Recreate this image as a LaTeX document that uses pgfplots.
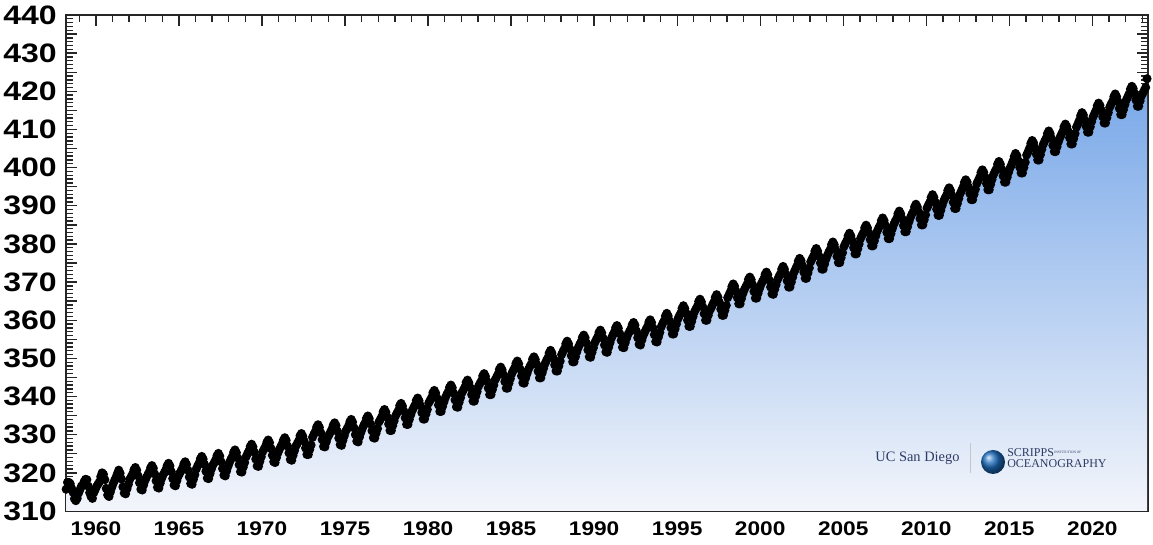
\documentclass[border=0pt]{standalone}
\usepackage{pgfplots}
\pgfplotsset{compat=1.18}
\usepackage{pgfplotstable}
\usepackage{fontspec}
\setmainfont{Liberation Sans}
\newfontfamily\ylabfont[FakeStretch=1.2]{Liberation Sans}
\newfontfamily\xlabfont[FakeStretch=1.15]{Liberation Sans}
\newfontfamily\logofont{Liberation Serif}
\definecolor{gtop}{RGB}{119,167,232}
\definecolor{gbot}{RGB}{243,245,251}
\definecolor{navy}{RGB}{45,60,100}
\definecolor{globe}{RGB}{30,110,190}
\definecolor{recent}{RGB}{40,90,210}

% Monthly mean CO2 (ppm), Mauna Loa, from March 1958 to April 2023
\pgfplotstableread[row sep=\\]{
co2\\
315.7\\ 317.5\\ 317.5\\ 317.1\\ 315.9\\ 314.9\\ 313.2\\ 312.7\\ 313.3\\ 314.7\\
315.6\\ 316.5\\ 316.7\\ 317.7\\ 318.3\\ 318.2\\ 316.5\\ 314.8\\ 313.8\\ 313.3\\ 314.8\\ 315.6\\
316.4\\ 317.0\\ 317.6\\ 319.0\\ 320.0\\ 319.6\\ 318.2\\ 315.9\\ 314.2\\ 313.8\\ 315.0\\ 316.2\\
317.2\\ 318.0\\ 318.8\\ 319.8\\ 320.7\\ 319.9\\ 318.4\\ 316.3\\ 314.7\\ 314.5\\ 315.8\\ 317.0\\
318.3\\ 319.0\\ 319.7\\ 320.8\\ 321.4\\ 320.7\\ 319.2\\ 317.4\\ 315.7\\ 315.5\\ 316.8\\ 318.0\\
318.8\\ 319.5\\ 320.2\\ 321.3\\ 321.9\\ 321.2\\ 319.7\\ 317.9\\ 316.2\\ 316.0\\ 317.3\\ 318.5\\
319.4\\ 320.1\\ 320.8\\ 321.9\\ 322.5\\ 321.8\\ 320.3\\ 318.5\\ 316.8\\ 316.6\\ 317.9\\ 319.1\\
319.8\\ 320.5\\ 321.2\\ 322.3\\ 322.9\\ 322.2\\ 320.7\\ 318.9\\ 317.2\\ 317.0\\ 318.3\\ 319.5\\
321.0\\ 321.8\\ 322.5\\ 323.7\\ 324.3\\ 323.6\\ 322.2\\ 320.4\\ 318.6\\ 318.5\\ 319.8\\ 321.0\\
322.0\\ 322.7\\ 323.4\\ 324.5\\ 325.1\\ 324.4\\ 322.9\\ 321.1\\ 319.4\\ 319.2\\ 320.5\\ 321.7\\
322.7\\ 323.5\\ 324.2\\ 325.4\\ 326.0\\ 325.3\\ 323.9\\ 322.1\\ 320.3\\ 320.2\\ 321.5\\ 322.7\\
324.2\\ 325.0\\ 325.7\\ 326.9\\ 327.5\\ 326.8\\ 325.4\\ 323.6\\ 321.8\\ 321.7\\ 323.0\\ 324.2\\
325.5\\ 326.2\\ 326.9\\ 328.0\\ 328.6\\ 327.9\\ 326.4\\ 324.6\\ 322.9\\ 322.7\\ 324.0\\ 325.2\\
326.1\\ 326.8\\ 327.5\\ 328.6\\ 329.2\\ 328.5\\ 327.0\\ 325.2\\ 323.5\\ 323.3\\ 324.6\\ 325.8\\
327.0\\ 327.7\\ 328.4\\ 329.7\\ 330.3\\ 329.6\\ 328.3\\ 326.5\\ 324.8\\ 324.8\\ 326.1\\ 327.3\\
329.3\\ 330.1\\ 330.8\\ 332.0\\ 332.6\\ 331.9\\ 330.5\\ 328.7\\ 326.9\\ 326.8\\ 328.1\\ 329.3\\
330.0\\ 330.7\\ 331.4\\ 332.5\\ 333.1\\ 332.4\\ 330.9\\ 329.1\\ 327.4\\ 327.2\\ 328.5\\ 329.7\\
330.9\\ 331.6\\ 332.3\\ 333.4\\ 334.0\\ 333.3\\ 331.8\\ 330.0\\ 328.3\\ 328.1\\ 329.4\\ 330.6\\
331.6\\ 332.4\\ 333.1\\ 334.3\\ 334.9\\ 334.2\\ 332.8\\ 331.0\\ 329.2\\ 329.1\\ 330.4\\ 331.6\\
333.3\\ 334.0\\ 334.7\\ 336.0\\ 336.6\\ 335.9\\ 334.6\\ 332.8\\ 331.1\\ 331.1\\ 332.4\\ 333.6\\
334.9\\ 335.6\\ 336.3\\ 337.6\\ 338.2\\ 337.5\\ 336.2\\ 334.4\\ 332.7\\ 332.7\\ 334.0\\ 335.2\\
336.3\\ 337.0\\ 337.7\\ 339.0\\ 339.6\\ 338.9\\ 337.6\\ 335.8\\ 334.1\\ 334.1\\ 335.4\\ 336.6\\
338.3\\ 339.0\\ 339.7\\ 341.0\\ 341.6\\ 340.9\\ 339.6\\ 337.8\\ 336.1\\ 336.1\\ 337.4\\ 338.6\\
339.7\\ 340.5\\ 341.2\\ 342.4\\ 343.0\\ 342.3\\ 340.9\\ 339.1\\ 337.3\\ 337.2\\ 338.5\\ 339.7\\
341.0\\ 341.7\\ 342.4\\ 343.7\\ 344.3\\ 343.6\\ 342.3\\ 340.5\\ 338.8\\ 338.8\\ 340.1\\ 341.3\\
342.7\\ 343.4\\ 344.1\\ 345.4\\ 346.0\\ 345.3\\ 344.0\\ 342.2\\ 340.5\\ 340.5\\ 341.8\\ 343.0\\
344.4\\ 345.1\\ 345.8\\ 347.1\\ 347.7\\ 347.0\\ 345.7\\ 343.9\\ 342.2\\ 342.2\\ 343.5\\ 344.7\\
346.0\\ 346.8\\ 347.5\\ 348.7\\ 349.3\\ 348.6\\ 347.2\\ 345.4\\ 343.6\\ 343.5\\ 344.8\\ 346.0\\
347.1\\ 347.8\\ 348.5\\ 349.8\\ 350.4\\ 349.7\\ 348.4\\ 346.6\\ 344.9\\ 344.9\\ 346.2\\ 347.4\\
348.6\\ 349.4\\ 350.1\\ 351.4\\ 352.1\\ 351.4\\ 350.1\\ 348.3\\ 346.7\\ 346.7\\ 348.0\\ 349.3\\
351.0\\ 351.8\\ 352.5\\ 353.8\\ 354.5\\ 353.8\\ 352.5\\ 350.7\\ 349.1\\ 349.1\\ 350.4\\ 351.7\\
352.8\\ 353.6\\ 354.3\\ 355.5\\ 356.1\\ 355.4\\ 354.0\\ 352.2\\ 350.4\\ 350.3\\ 351.6\\ 352.8\\
354.1\\ 354.9\\ 355.6\\ 356.8\\ 357.4\\ 356.7\\ 355.3\\ 353.5\\ 351.7\\ 351.6\\ 352.9\\ 354.1\\
355.3\\ 356.1\\ 356.8\\ 358.0\\ 358.6\\ 357.9\\ 356.5\\ 354.7\\ 352.9\\ 352.8\\ 354.1\\ 355.3\\
356.3\\ 357.0\\ 357.7\\ 358.8\\ 359.4\\ 358.7\\ 357.2\\ 355.4\\ 353.7\\ 353.5\\ 354.8\\ 356.0\\
356.8\\ 357.6\\ 358.3\\ 359.5\\ 360.1\\ 359.4\\ 358.0\\ 356.2\\ 354.4\\ 354.3\\ 355.6\\ 356.8\\
358.3\\ 359.1\\ 359.8\\ 361.1\\ 361.8\\ 361.1\\ 359.8\\ 358.0\\ 356.4\\ 356.4\\ 357.7\\ 359.0\\
360.3\\ 361.1\\ 361.8\\ 363.1\\ 363.8\\ 363.1\\ 361.8\\ 360.0\\ 358.4\\ 358.4\\ 359.7\\ 361.0\\
362.2\\ 362.9\\ 363.6\\ 364.9\\ 365.5\\ 364.8\\ 363.5\\ 361.7\\ 360.0\\ 360.0\\ 361.3\\ 362.5\\
363.2\\ 364.0\\ 364.7\\ 366.0\\ 366.7\\ 366.0\\ 364.7\\ 362.9\\ 361.3\\ 361.3\\ 362.6\\ 363.9\\
365.9\\ 366.7\\ 367.5\\ 368.8\\ 369.5\\ 368.9\\ 367.6\\ 365.9\\ 364.3\\ 364.3\\ 365.7\\ 367.0\\
368.0\\ 368.7\\ 369.4\\ 370.7\\ 371.3\\ 370.6\\ 369.3\\ 367.5\\ 365.8\\ 365.8\\ 367.1\\ 368.3\\
369.3\\ 370.1\\ 370.8\\ 372.0\\ 372.6\\ 371.9\\ 370.5\\ 368.7\\ 366.9\\ 366.8\\ 368.1\\ 369.3\\
370.6\\ 371.4\\ 372.1\\ 373.4\\ 374.1\\ 373.4\\ 372.1\\ 370.3\\ 368.7\\ 368.7\\ 370.0\\ 371.3\\
372.6\\ 373.4\\ 374.2\\ 375.5\\ 376.2\\ 375.6\\ 374.3\\ 372.6\\ 371.0\\ 371.0\\ 372.4\\ 373.7\\
375.3\\ 376.1\\ 376.8\\ 378.1\\ 378.8\\ 378.1\\ 376.8\\ 375.0\\ 373.4\\ 373.4\\ 374.7\\ 376.0\\
377.0\\ 377.8\\ 378.5\\ 379.8\\ 380.5\\ 379.8\\ 378.5\\ 376.7\\ 375.1\\ 375.1\\ 376.4\\ 377.7\\
379.3\\ 380.1\\ 380.8\\ 382.1\\ 382.8\\ 382.1\\ 380.8\\ 379.0\\ 377.4\\ 377.4\\ 378.7\\ 380.0\\
381.4\\ 382.2\\ 382.9\\ 384.2\\ 384.9\\ 384.2\\ 382.9\\ 381.1\\ 379.5\\ 379.5\\ 380.8\\ 382.1\\
383.3\\ 384.1\\ 384.8\\ 386.1\\ 386.8\\ 386.1\\ 384.8\\ 383.0\\ 381.4\\ 381.4\\ 382.7\\ 384.0\\
385.1\\ 385.9\\ 386.6\\ 387.9\\ 388.6\\ 387.9\\ 386.6\\ 384.8\\ 383.2\\ 383.2\\ 384.5\\ 385.8\\
386.9\\ 387.7\\ 388.4\\ 389.7\\ 390.4\\ 389.7\\ 388.4\\ 386.6\\ 385.0\\ 385.0\\ 386.3\\ 387.6\\
389.4\\ 390.2\\ 390.9\\ 392.2\\ 392.9\\ 392.2\\ 390.9\\ 389.1\\ 387.5\\ 387.5\\ 388.8\\ 390.1\\
391.2\\ 392.0\\ 392.7\\ 394.0\\ 394.7\\ 394.0\\ 392.7\\ 390.9\\ 389.3\\ 389.3\\ 390.6\\ 391.9\\
393.2\\ 394.0\\ 394.8\\ 396.1\\ 396.8\\ 396.2\\ 394.9\\ 393.2\\ 391.6\\ 391.6\\ 393.0\\ 394.3\\
395.8\\ 396.6\\ 397.4\\ 398.7\\ 399.4\\ 398.8\\ 397.5\\ 395.8\\ 394.2\\ 394.2\\ 395.6\\ 396.9\\
398.1\\ 398.9\\ 399.6\\ 400.9\\ 401.6\\ 400.9\\ 399.6\\ 397.8\\ 396.2\\ 396.2\\ 397.5\\ 398.8\\
399.9\\ 400.7\\ 401.6\\ 402.9\\ 403.7\\ 403.1\\ 401.8\\ 400.1\\ 398.6\\ 398.6\\ 400.0\\ 401.4\\
403.3\\ 404.1\\ 405.0\\ 406.3\\ 407.1\\ 406.5\\ 405.2\\ 403.5\\ 402.0\\ 402.0\\ 403.4\\ 404.8\\
406.1\\ 406.9\\ 407.6\\ 408.9\\ 409.6\\ 408.9\\ 407.6\\ 405.8\\ 404.2\\ 404.2\\ 405.5\\ 406.8\\
407.8\\ 408.6\\ 409.4\\ 410.7\\ 411.4\\ 410.8\\ 409.5\\ 407.8\\ 406.2\\ 406.2\\ 407.6\\ 408.9\\
410.6\\ 411.4\\ 412.3\\ 413.6\\ 414.4\\ 413.8\\ 412.5\\ 410.8\\ 409.3\\ 409.3\\ 410.7\\ 412.1\\
413.3\\ 414.1\\ 414.9\\ 416.2\\ 416.9\\ 416.3\\ 415.0\\ 413.3\\ 411.7\\ 411.7\\ 413.1\\ 414.4\\
415.8\\ 416.6\\ 417.3\\ 418.6\\ 419.3\\ 418.6\\ 417.3\\ 415.5\\ 413.9\\ 413.9\\ 415.2\\ 416.5\\
417.7\\ 418.5\\ 419.3\\ 420.6\\ 421.3\\ 420.7\\ 419.4\\ 417.7\\ 416.1\\ 416.1\\ 417.5\\ 418.8\\
419.5\\ 420.3\\ 421.0\\ 423.3\\
}\co

\begin{document}
\begin{tikzpicture}
\path[use as bounding box] (-49.5pt,-25.5pt) rectangle (815.25pt,383.25pt);
\begin{axis}[
  at={(0pt,0pt)}, anchor=south west,
  width=811.5pt, height=372pt, scale only axis,
  xmin=1958.2, xmax=2023.35, ymin=310, ymax=440,
  xtick={1960,1965,...,2020},
  xticklabels={1960,1965,1970,1975,1980,1985,1990,1995,2000,2005,2010,2015,2020},
  minor xtick={1959,1960,...,2023},
  ytick={310,315,...,440},
  yticklabels={310,,320,,330,,340,,350,,360,,370,,380,,390,,400,,410,,420,,430,,440},
  minor ytick={310,311,...,440},
  major tick length=8.5pt, minor tick length=5pt,
  every tick/.style={black!85, line width=1pt},
  axis line style={line width=1.1pt, black!85},
  xticklabel style={font=\xlabfont\bfseries\fontsize{14.8}{15}\selectfont, anchor=north, inner sep=0pt, yshift=-7.5pt},
  yticklabel style={font=\ylabfont\bfseries\fontsize{20}{20}\selectfont, anchor=east, inner sep=0pt, xshift=-6.75pt},
]
\addplot[draw=none, top color=gtop, bottom color=gbot, forget plot]
  table[x expr=1958.2083+\coordindex/12, y=co2]{\co}
  -- (axis cs:2023.29,310) -- (axis cs:1958.2083,310) -- cycle;
\addplot[black, line width=1.5pt, mark=*, mark size=2.6pt, mark options={solid, fill=black, draw=black}]
  table[x expr=1958.2083+\coordindex/12, y=co2]{\co};
\addplot[recent, line width=2.2pt] coordinates {(2022.88,417.6) (2022.96,418.8) (2023.04,419.6) (2023.12,420.4) (2023.2,421.2)};
\end{axis}
\node[font=\logofont\fontsize{10.8}{11}\selectfont, text=navy, inner sep=0pt] at (638.6pt,39.75pt) {UC San Diego};
\draw[gray!45, line width=0.5pt] (678.5pt,28.5pt) -- (678.5pt,51pt);
\shade[ball color=globe] (695.25pt,36.75pt) circle (9pt);
\node[anchor=west, inner sep=0pt, font=\logofont\fontsize{9}{9}\selectfont, text=navy] at (705.75pt,43.9pt) {SCRIPPS};
\node[anchor=west, inner sep=0pt, font=\logofont\fontsize{2.6}{3}\selectfont, text=navy] at (741pt,44.25pt) {INSTITUTION OF};
\node[anchor=west, inner sep=0pt, font=\logofont\fontsize{9}{9}\selectfont, text=navy] at (705.75pt,35.6pt) {OCEANOGRAPHY};
\end{tikzpicture}
\end{document}
